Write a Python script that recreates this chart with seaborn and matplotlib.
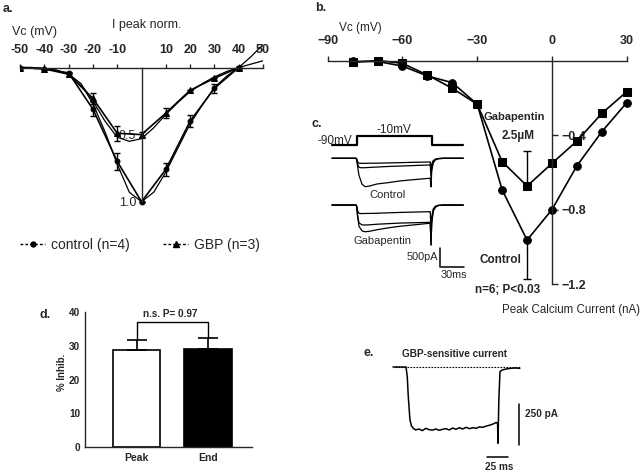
import numpy as np
import pandas as pd
import matplotlib
matplotlib.use("Agg")
import matplotlib.pyplot as plt
import seaborn as sns
from matplotlib.lines import Line2D

# ---------------- data ----------------
# panel a: normalised peak I-V (control vs GBP)
a_volts = [-50, -40, -30, -20, -10, 0, 10, 20, 30, 40]
a_ctrl = [0.0, 0.01, 0.04, 0.31, 0.70, 1.0, 0.76, 0.40, 0.155, 0.0]
a_ctrl_err = [0, 0, 0.01, 0.05, 0.065, 0, 0.05, 0.045, 0.035, 0.01]
a_gbp = [0.0, 0.01, 0.05, 0.23, 0.49, 0.50, 0.34, 0.17, 0.08, 0.0]
a_gbp_err = [0, 0, 0.01, 0.04, 0.055, 0.02, 0.035, 0, 0, 0]
a_fit_volts = [-50, -45, -40, -35, -30, -25, -20, -15, -10, -5, 0, 5, 10, 15, 20, 25, 30, 35, 40, 45, 50]
a_ctrl_fit = [0, 0.0, 0.008, 0.02, 0.05, 0.12, 0.27, 0.48, 0.72, 0.93, 1.0, 0.93, 0.78, 0.60, 0.42, 0.28, 0.15, 0.065, 0.0, -0.08, -0.17]
a_gbp_fit = [0, 0.0, 0.008, 0.02, 0.05, 0.12, 0.25, 0.40, 0.52, 0.55, 0.53, 0.45, 0.35, 0.26, 0.18, 0.12, 0.07, 0.03, 0.0, -0.025, -0.05]
a_xticks = [-50, -40, -30, -20, -10, 10, 20, 30, 40, 50]
a_yticks = [0.5, 1.0]
a_yminor = [0.1, 0.2, 0.3, 0.4, 0.6, 0.7, 0.8, 0.9]

# panel b: peak calcium current (nA)
b_volts = [-80, -70, -60, -50, -40, -30, -20, -10, 0, 10, 20, 30]
b_ctrl = [-0.005, -0.005, -0.03, -0.083, -0.119, -0.235, -0.695, -0.964, -0.80, -0.565, -0.382, -0.226]
b_gbp = [-0.01, 0.0, -0.015, -0.078, -0.149, -0.235, -0.543, -0.674, -0.552, -0.432, -0.284, -0.167]
b_err_volt = -10
b_gbp_err_up = 0.188
b_ctrl_err_dn = 0.21
b_xticks = [-90, -60, -30, 0, 30]
b_yticks = [-0.4, -0.8, -1.2]

# panel c: example traces (ms, pA) and voltage protocol (mV)
c_t = [0, 32, 33, 34, 36, 40, 44, 50, 60, 75, 90, 110, 130, 131, 132, 133, 135, 138, 142, 150, 175]
c_ctrl_s = [0, 0, -20, -90, -130, -132, -132, -130, -128, -122, -115, -105, -97, -97, -300, -150, -60, -20, -5, 0, 0]
c_ctrl_m = [0, 0, -30, -140, -240, -250, -247, -240, -230, -215, -205, -190, -176, -176, -500, -250, -90, -30, -8, 0, 0]
c_ctrl_l = [0, 0, -40, -200, -450, -680, -747, -730, -676, -640, -597, -560, -526, -526, -750, -330, -120, -40, -10, 0, 0]
c_gbp_s = [0, 0, -30, -150, -220, -225, -222, -220, -215, -205, -195, -185, -175, -175, -700, -300, -100, -30, -8, 0, 0]
c_gbp_m = [0, 0, -40, -250, -470, -520, -526, -520, -505, -490, -475, -465, -455, -455, -1050, -450, -150, -50, -10, 0, 0]
c_gbp_l = [0, 0, -40, -280, -560, -680, -703, -690, -650, -600, -560, -520, -480, -480, -1053, -460, -160, -50, -10, 0, 0]
c_v_t = [0, 33, 33, 133, 133, 175]
c_v_mV = [-90, -90, -10, -10, -90, -90]

# panel d: % inhibition
d_cats = ["Peak", "End"]
d_vals = [28.7, 29.0]
d_err = [2.9, 3.3]
d_yticks = [0, 10, 20, 30, 40]

# panel e: GBP-sensitive current (ms, pA)
e_t = [0, 15.5, 17, 18.2, 20.2, 22, 24.2, 27, 31, 35, 39, 43, 47, 51, 55, 59, 63, 67, 71, 75, 79, 83,
       87, 91, 95, 99, 103, 107, 111, 115, 119, 123, 124.5, 125, 126, 127.4, 130, 135, 140, 145, 151]
e_i = [0, 0, -60, -181, -323, -360, -374, -384, -378, -388, -374, -382, -385, -378, -386, -380, -376,
       -384, -372, -380, -370, -378, -368, -376, -370, -374, -365, -368, -360, -355, -348, -338,
       -345, -465, -200, -28, -18, -12, -8, -6, -8]

# ---------------- style ----------------
sns.set_style("white")
plt.rcParams["font.family"] = ["Liberation Sans", "DejaVu Sans"]
plt.rcParams["axes.unicode_minus"] = True
plt.rcParams["axes.linewidth"] = 1.0

W, H = 640, 473
fig = plt.figure(figsize=(6.4, 4.73), dpi=100)


def rect(x0, y0, x1, y1):
    return [x0 / W, 1 - y1 / H, (x1 - x0) / W, (y1 - y0) / H]


def ftext(x, y, s, **kw):
    kw.setdefault("ha", "center")
    kw.setdefault("va", "center")
    fig.text(x / W, 1 - y / H, s, **kw)


def clean(ax):
    ax.set_facecolor("none")
    ax.set_xlabel("")
    ax.set_ylabel("")


# ---------------- panel a ----------------
ax_a = fig.add_axes(rect(20, 40, 263, 205))
clean(ax_a)
sns.lineplot(x=a_fit_volts, y=a_ctrl_fit, color="k", lw=0.9, ax=ax_a, estimator=None, sort=False)
sns.lineplot(x=a_fit_volts, y=a_gbp_fit, color="k", lw=0.9, ax=ax_a, estimator=None, sort=False)
sns.lineplot(x=a_volts, y=a_ctrl, color="k", lw=1.2, marker="o", ms=3.5, mec="k", ax=ax_a,
             estimator=None, sort=False)
sns.lineplot(x=a_volts, y=a_gbp, color="k", lw=1.2, marker="^", ms=4, mec="k", ax=ax_a,
             estimator=None, sort=False)
ax_a.errorbar(a_volts, a_ctrl, yerr=a_ctrl_err, fmt="none", ecolor="k", elinewidth=1, capsize=2.5)
ax_a.errorbar(a_volts, a_gbp, yerr=a_gbp_err, fmt="none", ecolor="k", elinewidth=1, capsize=2.5)
ax_a.set_xlim(-50, 50)
ax_a.set_ylim(1.0246, -0.205)
for s in ["right", "bottom"]:
    ax_a.spines[s].set_visible(False)
ax_a.spines["top"].set_position(("data", 0))
ax_a.spines["top"].set_bounds(-50, 50)
ax_a.spines["left"].set_position(("data", 0))
ax_a.spines["left"].set_bounds(0, 1.0)
ax_a.xaxis.set_ticks_position("top")
ax_a.set_xticks(a_xticks)
ax_a.set_xticklabels([str(v) for v in a_xticks], fontweight="bold")
ax_a.tick_params(axis="x", direction="out", length=3, pad=5, labelsize=9, width=1)
ax_a.set_yticks(a_yticks)
ax_a.set_yticklabels(["0.5", "1.0"])
ax_a.set_yticks(a_yminor, minor=True)
ax_a.tick_params(axis="y", which="both", direction="out", length=3, pad=1, labelsize=9, width=1)
ax_a.tick_params(axis="y", which="minor", length=2.5)
ax_a.set_xticks([], minor=True)

ftext(3, 9, "a.", ha="left", fontsize=9, fontweight="bold")
ftext(35, 32, "Vc (mV)", fontsize=9)
ftext(147, 25, "I peak norm.", fontsize=9)

handles = [
    Line2D([], [], color="k", ls=(0, (2, 1.5)), lw=1, marker="o", ms=3.5, label="control (n=4)"),
    Line2D([], [], color="k", ls=(0, (2, 1.5)), lw=1, marker="^", ms=4, label="GBP (n=3)"),
]
fig.legend(handles=handles, loc="center", bbox_to_anchor=(140 / W, 1 - 245 / H), ncol=2,
           frameon=False, fontsize=10, handlelength=1.8, columnspacing=2.4, handletextpad=0.4)

# ---------------- panel b ----------------
ax_b = fig.add_axes(rect(318, 30, 635, 290))
clean(ax_b)
sns.lineplot(x=b_volts, y=b_ctrl, color="k", lw=1.2, marker="o", ms=5.5, mec="k", ax=ax_b,
             estimator=None, sort=False)
sns.lineplot(x=b_volts, y=b_gbp, color="k", lw=1.2, marker="s", ms=5.5, mec="k", ax=ax_b,
             estimator=None, sort=False)
i_err = b_volts.index(b_err_volt)
ax_b.errorbar([b_err_volt], [b_gbp[i_err]], yerr=[[0], [b_gbp_err_up]], fmt="none", ecolor="k",
              elinewidth=1, capsize=3.2)
ax_b.errorbar([b_err_volt], [b_ctrl[i_err]], yerr=[[b_ctrl_err_dn], [0]], fmt="none", ecolor="k",
              elinewidth=1, capsize=3.2)
ax_b.set_xlim(-93.9, 33.3)
ax_b.set_ylim(-1.232, 0.1638)
for s in ["left", "bottom"]:
    ax_b.spines[s].set_visible(False)
ax_b.spines["top"].set_position(("data", 0))
ax_b.spines["top"].set_bounds(-90, 30)
ax_b.spines["right"].set_position(("data", 0))
ax_b.spines["right"].set_bounds(-1.2, 0)
ax_b.xaxis.set_ticks_position("top")
ax_b.set_xticks(b_xticks)
ax_b.set_xticklabels([str(v).replace("-", "\u2212") for v in b_xticks], fontweight="bold")
ax_b.tick_params(axis="x", direction="out", length=3.5, pad=6, labelsize=9, width=1)
ax_b.yaxis.set_ticks_position("right")
ax_b.set_yticks(b_yticks)
ax_b.set_yticklabels([("%.1f" % v).replace("-", "\u2212") for v in b_yticks], fontweight="bold")
ax_b.tick_params(axis="y", direction="out", length=4, pad=3, labelsize=9, width=1)

ftext(315, 8, "b.", ha="left", fontsize=9, fontweight="bold")
ftext(360, 28, "Vc (mV)", fontsize=8.5)
ftext(514, 117, "Gabapentin", fontsize=8, fontweight="bold")
ftext(518, 136, "2.5\u00b5M", fontsize=8.5, fontweight="bold")
ftext(500, 260, "Control", fontsize=8.5, fontweight="bold")
ftext(508, 290, "n=6; P<0.03", fontsize=8.5, fontweight="bold")
ftext(571, 310, "Peak Calcium Current (nA)", fontsize=8.3)

# ---------------- panel c ----------------
c_xlim = (-9.33, 184)
ax_cv = fig.add_axes(rect(325, 128, 470, 150))
clean(ax_cv)
sns.lineplot(x=c_v_t, y=c_v_mV, color="k", lw=1.6, ax=ax_cv, estimator=None, sort=False)
ax_cv.set_xlim(*c_xlim)
ax_cv.set_ylim(-134.4, 61)
ax_cv.axis("off")

ax_c = fig.add_axes(rect(325, 150, 470, 282))
clean(ax_c)
gbp_offset = -1230
for tr in (c_ctrl_s, c_ctrl_m, c_ctrl_l):
    sns.lineplot(x=c_t, y=tr, color="k", lw=0.9, ax=ax_c, estimator=None, sort=False)
for tr in (c_gbp_s, c_gbp_m, c_gbp_l):
    sns.lineplot(x=c_t, y=np.array(tr) + gbp_offset, color="k", lw=0.9, ax=ax_c,
                 estimator=None, sort=False)
# scale bars (500 pA, 30 ms)
ax_c.plot([144, 144], [-2360, -2860], color="k", lw=1.1)
ax_c.plot([146, 176], [-2860, -2860], color="k", lw=1.1)
ax_c.set_xlim(*c_xlim)
ax_c.set_ylim(-3255, 218.4)
ax_c.axis("off")

ftext(312, 124, "c.", ha="left", fontsize=9, fontweight="bold")
ftext(335, 141, "-90mV", fontsize=8.5)
ftext(394, 130, "-10mV", fontsize=8.5)
ftext(388, 195, "Control", fontsize=8)
ftext(382, 241, "Gabapentin", fontsize=8)
ftext(438, 257, "500pA", ha="right", fontsize=7.8)
ftext(454, 275, "30ms", fontsize=7.8)

# ---------------- panel d ----------------
ax_d = fig.add_axes(rect(85, 312, 252, 447))
clean(ax_d)
sns.barplot(x=d_cats, y=d_vals, hue=d_cats, palette=["white", "black"], legend=False,
            edgecolor="black", linewidth=1.2, width=0.66, ax=ax_d)
pos = np.arange(len(d_cats))
ax_d.errorbar(pos, d_vals, yerr=[[0] * len(d_err), d_err], fmt="none", ecolor="k",
              elinewidth=1.2, capsize=7.5, capthick=1.2)
d_bracket = 36.9
ax_d.plot([pos[0], pos[0], pos[1], pos[1]],
          [d_vals[0] + d_err[0], d_bracket, d_bracket, d_vals[1] + d_err[1]],
          color="k", lw=1, clip_on=False)
ax_d.set_xlim(-0.725, 1.617)
ax_d.set_ylim(0, 40)
sns.despine(ax=ax_d)
ax_d.spines["left"].set_bounds(0, 40)
ax_d.set_yticks(d_yticks)
ax_d.set_yticklabels([str(v) for v in d_yticks], fontweight="bold")
ax_d.tick_params(axis="y", direction="out", length=3, pad=0.5, labelsize=7.2, width=1)
ax_d.set_xticks(pos)
ax_d.set_xticklabels(d_cats, fontweight="bold")
ax_d.tick_params(axis="x", length=0, pad=4, labelsize=7.5)
ax_d.set_xlabel("")
ax_d.set_ylabel("")

ftext(40, 315, "d.", ha="left", fontsize=9, fontweight="bold")
ftext(170, 314, "n.s. P= 0.97", fontsize=7.2, fontweight="bold")
ftext(62, 372, "% Inhib.", rotation=90, fontsize=7.0, fontweight="bold")

# ---------------- panel e ----------------
ax_e = fig.add_axes(rect(385, 360, 530, 462))
clean(ax_e)
sns.lineplot(x=e_t, y=e_i, color="k", lw=1.1, ax=ax_e, estimator=None, sort=False)
ax_e.plot([e_t[0] + 2, e_t[-1]], [0, 0], color="k", lw=0.8, ls=(0, (1.5, 1.2)))
# scale bars (250 pA, 25 ms)
ax_e.plot([150, 150], [-226, -476], color="k", lw=1.1)
ax_e.plot([111.9, 136.9], [-549, -549], color="k", lw=1.1)
ax_e.set_xlim(-9.52, 163.1)
ax_e.set_ylim(-579.3, 42.7)
ax_e.axis("off")

ftext(363, 353, "e.", ha="left", fontsize=9, fontweight="bold")
ftext(455, 354, "GBP-sensitive current", fontsize=7.2, fontweight="bold")
ftext(525, 414, "250 pA", ha="left", fontsize=7.2, fontweight="bold")
ftext(499, 467, "25 ms", fontsize=7.2, fontweight="bold")

fig.savefig("out.png", dpi=100)
